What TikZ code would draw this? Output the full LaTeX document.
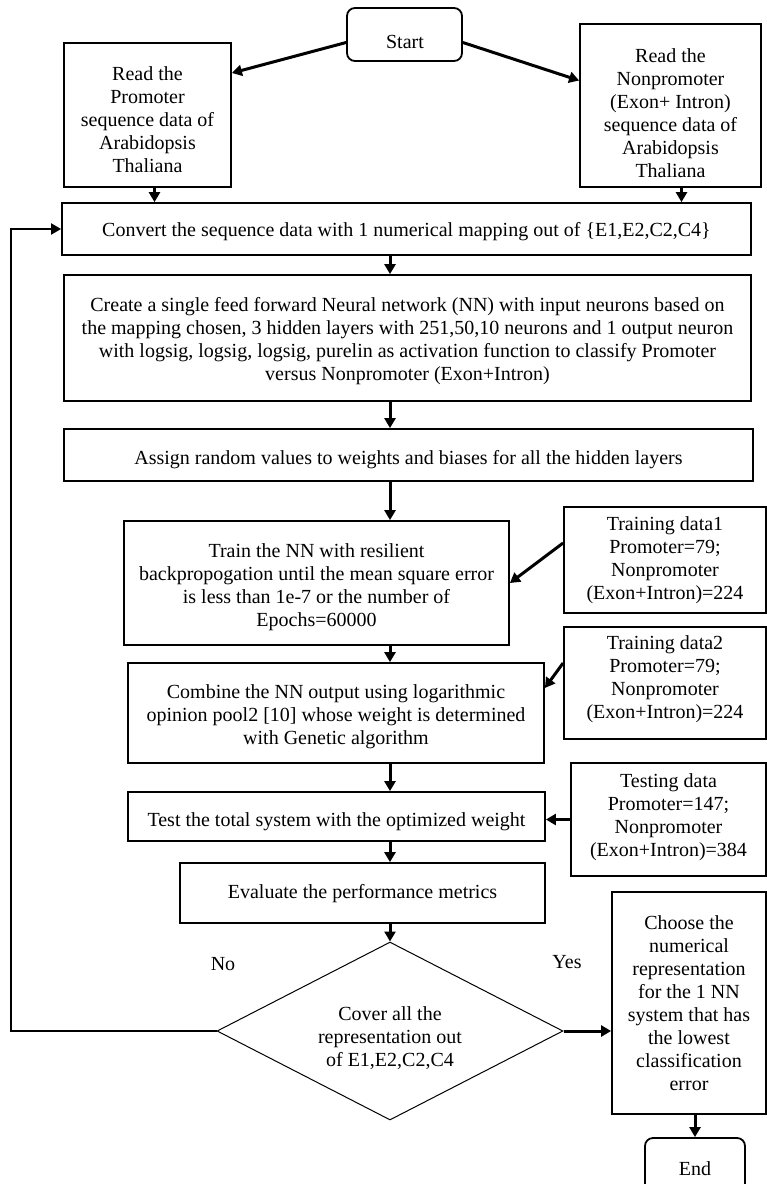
\documentclass[tikz,border=0pt]{standalone}
\usepackage{fontspec}
\setmainfont{Liberation Serif}
\usetikzlibrary{arrows.meta,shapes.geometric}

% #1 name, #2 cx, #3 cy, #4 width, #5 height, #6 text y, #7 text
\newcommand\stepbox[7]{%
  \node[box,minimum width=#4pt,minimum height=#5pt] (#1) at (#2,#3) {};
  \node[txt] (#1-t) at (#2,#6) {#7};}

\begin{document}
\begin{tikzpicture}[x=1pt,y=-1pt,
  box/.style={draw=black,line width=1.8pt,rectangle,inner sep=0pt},
  txt/.style={align=center,inner sep=0pt,font=\fontsize{20}{23}\selectfont},
  flow/.style={-{Triangle[length=10pt,width=11pt]},line width=3pt},
  loop/.style={-{Triangle[length=10pt,width=11pt]},line width=2pt}]
\useasboundingbox (0,0) rectangle (767,1184);
\fill[white] (0,0) rectangle (767,1184);

% terminals
\node[box,rounded corners=8pt,minimum width=115pt,minimum height=53pt] (start) at (404.5,34.5) {};
\node[txt] (start-t) at (405,42) {Start};
\node[box,rounded corners=8pt,minimum width=100pt,minimum height=62pt] (end) at (695,1169) {};
\node[txt] (end-t) at (695,1169) {End};

% process steps
\stepbox{prom}{147.5}{115}{167}{144}{120}{Read the\\Promoter\\sequence data of\\Arabidopsis\\Thaliana}
\stepbox{nonprom}{670.5}{105.5}{181}{163}{113}{Read the\\Nonpromoter\\(Exon+ Intron)\\sequence data of\\Arabidopsis\\Thaliana}
\stepbox{conv}{406.5}{229}{689}{52}{232}{Convert the sequence data with 1 numerical mapping out of \{E1,E2,C2,C4\}}
\stepbox{create}{407.5}{338}{687}{126}{341}{Create a single feed forward Neural network (NN) with input neurons based on\\the mapping chosen, 3 hidden layers with 251,50,10 neurons and 1 output neuron\\with logsig, logsig, logsig, purelin as activation function to classify Promoter\\versus Nonpromoter (Exon+Intron)}
\stepbox{assign}{408.5}{455}{689}{52}{460}{Assign random values to weights and biases for all the hidden layers}
\stepbox{train}{316.5}{583}{385}{124}{587}{Train the NN with resilient\\backpropogation until the mean square error\\is less than 1e-7 or the number of\\Epochs=60000}
\stepbox{tdone}{665}{560}{202}{106}{560}{Training data1\\Promoter=79;\\Nonpromoter\\(Exon+Intron)=224}
\stepbox{combine}{336}{713}{416}{100}{717}{Combine the NN output using logarithmic\\opinion pool2 [10] whose weight is determined\\with Genetic algorithm}
\stepbox{tdtwo}{665}{683}{202}{112}{679}{Training data2\\Promoter=79;\\Nonpromoter\\(Exon+Intron)=224}
\stepbox{test}{336.5}{816.5}{417}{49}{822}{Test the total system with the optimized weight}
\stepbox{testing}{668.5}{819.5}{195}{113}{817}{Testing data\\Promoter=147;\\Nonpromoter\\(Exon+Intron)=384}
\stepbox{eval}{362.5}{893}{365}{60}{894}{Evaluate the performance metrics}
\stepbox{choose}{689}{1003}{154}{222}{1003}{Choose the\\numerical\\representation\\for the 1 NN\\system that has\\the lowest\\classification\\error}

% decision
\node[draw=black,line width=1pt,diamond,inner sep=0pt,minimum width=346pt,minimum height=178pt] (dia) at (390,1031) {};
\node[txt] (dia-t) at (390,1038) {Cover all the\\representation out\\of E1,E2,C2,C4};
\node[txt] (no) at (223,964) {No};
\node[txt] (yes) at (567,962) {Yes};

% main axis and loop-back corner
\coordinate (axis) at (390,0);
\coordinate (back) at (11,0);

% connectors
\draw[flow] ([yshift=-8pt]start.west) -- ([yshift=42pt]prom.east);
\draw[flow] ([yshift=-8pt]start.east) -- ([yshift=25pt]nonprom.west);
\draw[flow] ([xshift=7pt]prom.south) -- ([xshift=7pt]prom.south |- conv.north);
\draw[flow] ([xshift=11pt]nonprom.south) -- ([xshift=11pt]nonprom.south |- conv.north);
\draw[flow] (axis |- conv.south) -- (axis |- create.north);
\draw[flow] (axis |- create.south) -- (axis |- assign.north);
\draw[flow] (axis |- assign.south) -- (axis |- train.north);
\draw[flow] (axis |- train.south) -- (axis |- combine.north);
\draw[flow] (axis |- combine.south) -- (axis |- test.north);
\draw[flow] (axis |- test.south) -- (axis |- eval.north);
\draw[flow] (axis |- eval.south) -- (dia.north);
\draw[flow] ([yshift=17pt]tdone.west) -- (train.east);
\draw[flow] ([yshift=20pt]tdtwo.west) -- ([yshift=25pt]combine.east);
\draw[flow] (testing.west) -- (testing.west -| test.east);
\draw[flow] (dia.east) -- (dia.east -| choose.west);
\draw[flow] (end.north |- choose.south) -- (end.north);
\draw[loop] (dia.west) -- (back |- dia.west) -- (back |- conv.west) -- (conv.west);
\end{tikzpicture}
\end{document}
